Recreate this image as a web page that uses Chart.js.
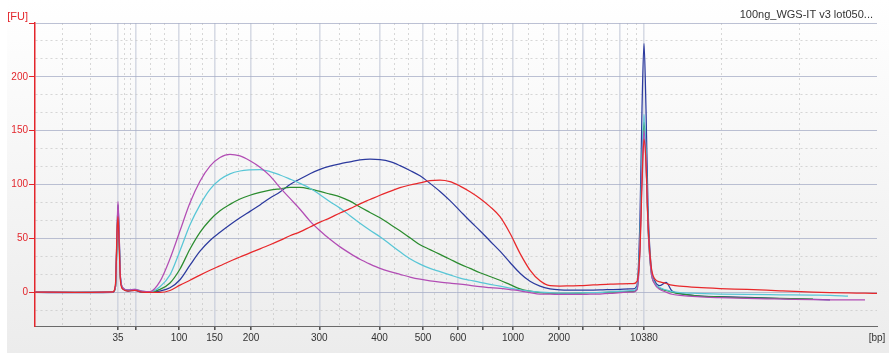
<!DOCTYPE html>
<html>
<head>
<meta charset="utf-8">
<title>Electropherogram</title>
<style>
  html, body { margin: 0; padding: 0; background: #fff; }
  #wrap { width: 889px; height: 353px; }
</style>
</head>
<body>
<div id="wrap"><canvas id="efg" width="889" height="353"></canvas></div>
<script src="https://cdn.jsdelivr.net/npm/chart.js"></script>
<script>
// migration time [s] of each sample
const sampleTimes = [
  20.0, 24.0, 27.8, 28.05, 28.2, 28.3, 28.4, 28.55, 28.8, 29.3, 30.0, 30.7,
  31.5, 32.5, 33.5, 34.5, 35.5, 36.5, 37.5, 38.5, 39.5, 40.5,
  41.5, 42.5, 43.5, 44.5, 45.5, 46.5, 47.5, 48.5, 49.5, 50.5,
  51.5, 52.5, 53.5, 54.5, 55.5, 56.5, 57.5, 58.5, 59.5, 60.5,
  61.5, 62.5, 63.5, 64.5, 65.5, 66.5, 67.5, 68.5, 69.5, 70.5,
  71.5, 72.5, 73.5, 74.5, 75.5, 76.5, 77.5, 78.5, 79.5,
  79.8, 80.2, 80.5, 80.7, 80.9, 81.1, 81.3, 81.6, 82.0, 82.5, 83.1,
  83.7, 84.5, 86.2, 88.5, 91.2, 94.5, 97.8, 99.5, 101.3, 103.0, 104.2
];

// fluorescence [FU] per sample
const redTrace = [
  0, -0.2, 0.3, 8, 55, 70, 48, 10, 2.5, 1, 1.5, 0,
  -0.3, -0.3, 1.5, 6.5, 11, 15.8, 20.3, 24.5, 28.7, 32.6,
  36.5, 40.2, 44, 48, 52.3, 56, 60.5, 65, 69, 73.5,
  77.5, 82, 86, 90, 93.5, 97, 99.5, 101.5, 103.5, 104,
  102.6, 98.5, 93.3, 87, 79.4, 70, 54.6, 36, 20.5, 10.5,
  6, 5.6, 5.8, 6, 6.5, 7, 7.3, 7.6, 7.8,
  7.8, 10, 40, 100, 142, 120, 65, 25, 12, 9.5, 8,
  6.5, 5.5, 4.3, 3.3, 2.5, 1.2, 0, -0.5, -0.8, -1, -1.2
];
const blueTrace = [
  -0.3, -0.6, -0.3, 5, 52, 81, 58, 13, 3, 1, 1.5, 0,
  0, 1, 4, 11.5, 25, 38, 48, 55.5, 62.5, 69,
  75, 81, 87.5, 93, 100, 105, 110, 114, 117, 119.2,
  121, 122.8, 123.5, 123, 121.2, 117.5, 113, 108, 101, 93.5,
  85, 75.5, 66, 57, 47.5, 38, 27.5, 17.5, 10, 5.5,
  3, 2, 1.8, 1.8, 1.9, 2, 2.3, 2.6, 3,
  3, 6, 70, 170, 231, 170, 80, 25, 10, 6, 9,
  1, -1.5, -3.4, -4.3, -5, -6, -6.8, -7.2, null, null, null
];
const greenTrace = [
  0, -0.2, 0, 5, 48, 74, 52, 12, 3.5, 1.5, 2, 0.5,
  0, 2.5, 8.5, 21.5, 40, 55.5, 67, 75.5, 81.5, 86.5,
  90, 92.6, 94.7, 96, 97.2, 97.2, 95.8, 93.5, 91, 88.5,
  84.5, 79, 74, 69, 63, 57, 50.5, 44, 39.5, 35,
  30.5, 26, 22, 18, 14.5, 11, 7, 3, 0.8, -0.5,
  -1, -1.2, -1.1, -0.9, -0.6, -0.4, -0.1, 0.2, 0.4,
  0.4, 3, 45, 115, 158, 125, 62, 20, 8, 3.5, 1.5,
  0, -1.5, -3.5, -4.5, -5.3, -5.8, -6.5, null, null, null, null
];
const cyanTrace = [
  0.2, 0, 0.3, 5, 50, 76, 55, 12, 4, 2, 2.5, 1,
  0.3, 5, 16, 38.5, 62.5, 81, 95.5, 104.6, 109.9, 112.5,
  113.5, 113.8, 112, 108.8, 105, 101, 96.5, 90.5, 84, 78,
  71, 64, 57.5, 51.4, 44.5, 37.5, 31, 26, 22, 19,
  16, 13, 11, 9, 7.2, 5.5, 3.7, 2, 0.8, 0,
  -0.6, -1, -0.9, -0.8, -0.6, -0.3, 0.3, 0.8, 1.3,
  1.3, 4, 50, 125, 165, 130, 65, 22, 8, 4, 2,
  0.5, -0.5, -1.2, -1.8, -2.2, -2.5, -2.8, -3, -3.7, null, null
];
const purpleTrace = [
  0, -0.3, 0, 6, 55, 84, 60, 14, 4, 2, 2.5, 1,
  0.5, 10, 31, 57, 83, 103, 117, 125, 128, 126.5,
  122, 116, 108, 97, 87, 77, 66, 57, 49, 42,
  36, 30.5, 26, 22, 19, 16.5, 14, 12, 10.5, 9.3,
  8.3, 7.4, 6.2, 5, 4.2, 3.4, 2.3, 1.2, -0.5, -1.9,
  -2, -2.2, -2.2, -2.2, -2, -1.8, -1.3, -0.6, 0,
  0, 2, 40, 110, 150, 120, 60, 20, 7, 2.5, 0,
  -2, -3, -4.3, -5.2, -5.9, -6.4, -7, -7.2, -7.2, -7.2, null
];

// ladder peaks: size and migration time
const ladderBp = [35, 50, 100, 150, 200, 300, 400, 500, 600, 700, 1000, 2000, 3000, 7000, 10380];
const ladderTimes = [28.3, 30.1, 34.4, 37.95, 41.6, 48.43, 54.45, 58.8, 62.3, 64.75, 67.8, 72.4, 74.8, 78.5, 80.9];
const ladderShown = [35, 100, 150, 200, 300, 400, 500, 600, 1000, 2000, 10380];
const fuLabels = [0, 50, 100, 150, 200];

const T_MIN = 20, T_MAX = 104.2, FU_MIN = -31.5, FU_MAX = 250;
const AXIS_RED = '#e3262c';
const FONT = '"Liberation Sans", Arial, sans-serif';

function buildXTicks() {
  const edges = [T_MIN].concat(ladderTimes, [T_MAX]);
  const list = [];
  for (let i = 0; i < edges.length - 1; i++) {
    const a = edges[i], b = edges[i + 1];
    if (i > 0) {
      const bp = ladderBp[i - 1];
      list.push({ value: a, label: ladderShown.includes(bp) ? String(bp) : '', kind: 'major' });
    }
    list.push({ value: a + (b - a) / 3, label: '', kind: 'minor' });
    list.push({ value: a + 2 * (b - a) / 3, label: '', kind: 'minor' });
  }
  list.push({ value: T_MAX, label: '[bp]', kind: 'end' });
  return list;
}

function buildYTicks() {
  const list = [];
  for (let m = -50; m < FU_MAX; m += 50) {
    if (m >= FU_MIN) list.push({ value: m, label: fuLabels.includes(m) ? String(m) : '', kind: 'major' });
    [1 / 3, 2 / 3].forEach(f => {
      const v = m + 50 * f;
      if (v > FU_MIN && v < FU_MAX) list.push({ value: v, label: '', kind: 'minor' });
    });
  }
  list.push({ value: FU_MAX, label: '', kind: 'major' });
  return list;
}

const xTicks = buildXTicks();
const yTicks = buildYTicks();

function trace(values) {
  return sampleTimes.map((t, i) => ({ x: t, y: values[i] }));
}

function series(label, values, color) {
  return {
    label: label,
    data: trace(values),
    borderColor: color,
    borderWidth: 1.25,
    pointRadius: 0,
    fill: false,
    cubicInterpolationMode: 'monotone',
    spanGaps: false
  };
}

const paper = {
  id: 'paper',
  beforeDraw(chart) {
    const { ctx, width, height } = chart;
    ctx.save();
    ctx.fillStyle = '#ffffff';
    ctx.fillRect(0, 0, width, height);
    const g = ctx.createLinearGradient(0, 0, 0, height);
    g.addColorStop(0, '#ffffff');
    g.addColorStop(1, '#ececec');
    ctx.fillStyle = g;
    ctx.fillRect(7, 0, width - 7, height);
    ctx.restore();
  },
  afterDraw(chart) {
    const { ctx, chartArea } = chart;
    ctx.save();
    ctx.font = '11px ' + FONT;
    ctx.textBaseline = 'middle';
    ctx.textAlign = 'right';
    ctx.fillStyle = '#333';
    ctx.fillText('100ng_WGS-IT v3 lot050...', chartArea.right - 4, 15);
    ctx.fillStyle = AXIS_RED;
    ctx.fillText('[FU]', chartArea.left - 7, chartArea.top - 6);
    ctx.restore();
  }
};

new Chart(document.getElementById('efg').getContext('2d'), {
  type: 'line',
  data: {
    datasets: [
      series('red', redTrace, '#e8282b'),
      series('purple', purpleTrace, '#b24db4'),
      series('cyan', cyanTrace, '#58c6d6'),
      series('green', greenTrace, '#2b8c2f'),
      series('blue', blueTrace, '#2c3a9e')
    ]
  },
  options: {
    responsive: false,
    animation: false,
    layout: { padding: { top: 23, right: 12, left: 0, bottom: 0 } },
    plugins: {
      legend: { display: false },
      tooltip: { enabled: false }
    },
    scales: {
      x: {
        type: 'linear',
        min: T_MIN,
        max: T_MAX,
        afterBuildTicks: s => { s.ticks = xTicks.map(t => ({ value: t.value })); },
        afterFit: s => { s.height = 27; },
        ticks: {
          autoSkip: false,
          maxRotation: 0,
          padding: 2,
          color: '#333333',
          font: { family: FONT, size: 10 },
          callback: (v, i) => (xTicks[i] ? xTicks[i].label : '')
        },
        grid: {
          color: c => {
            const t = xTicks[c.index];
            if (!t || t.kind === 'end') return 'rgba(0,0,0,0)';
            return t.kind === 'major' ? 'rgba(190,196,214,0.6)' : 'rgba(195,195,195,0.65)';
          },
          lineWidth: c => (xTicks[c.index] && xTicks[c.index].kind === 'major' ? 1.6 : 1),
          tickLength: 4,
          tickColor: c => (xTicks[c.index] && xTicks[c.index].kind === 'major' ? '#555' : 'rgba(0,0,0,0)')
        },
        border: {
          color: '#6a6a6a',
          width: 1,
          dash: c => (xTicks[c.index] && xTicks[c.index].kind === 'minor' ? [2, 3] : [])
        }
      },
      y: {
        min: FU_MIN,
        max: FU_MAX,
        afterBuildTicks: s => { s.ticks = yTicks.map(t => ({ value: t.value })); },
        afterFit: s => { s.width = 35; },
        ticks: {
          padding: 1,
          color: AXIS_RED,
          font: { family: FONT, size: 10 },
          callback: (v, i) => (yTicks[i] ? yTicks[i].label : '')
        },
        grid: {
          color: c => (yTicks[c.index] && yTicks[c.index].kind === 'major' ? 'rgba(165,172,198,0.75)' : 'rgba(195,195,195,0.65)'),
          lineWidth: 1,
          tickLength: 6,
          tickColor: c => (yTicks[c.index] && yTicks[c.index].kind === 'major' ? AXIS_RED : 'rgba(0,0,0,0)')
        },
        border: {
          color: AXIS_RED,
          width: 1.5,
          dash: c => (yTicks[c.index] && yTicks[c.index].kind === 'minor' ? [2, 3] : [])
        }
      }
    }
  },
  plugins: [paper]
});
</script>
</body>
</html>
